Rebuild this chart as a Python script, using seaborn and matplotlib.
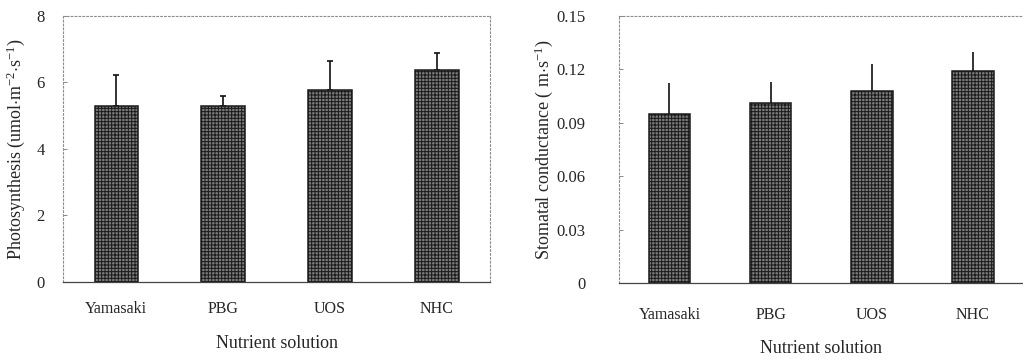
import matplotlib
matplotlib.use('Agg')
import matplotlib.pyplot as plt
import numpy as np
import pandas as pd
import seaborn as sns

# values
solutions = ['Yamasaki', 'PBG', 'UOS', 'NHC']
photo_mean = [5.28, 5.28, 5.77, 6.38]
photo_err = [0.95, 0.30, 0.88, 0.50]
cond_mean = [0.095, 0.101, 0.108, 0.119]
cond_err = [0.0175, 0.012, 0.015, 0.011]

photo_ticks = [0, 2, 4, 6, 8]
photo_ticklabels = ['0', '2', '4', '6', '8']
cond_ticks = [0, 0.03, 0.06, 0.09, 0.12, 0.15]
cond_ticklabels = ['0', '0.03', '0.06', '0.09', '0.12', '0.15']

sns.set_style('white')
plt.rcParams['font.family'] = ['Liberation Serif', 'DejaVu Serif']
plt.rcParams['mathtext.fontset'] = 'custom'
plt.rcParams['mathtext.rm'] = 'Liberation Serif'
plt.rcParams['mathtext.it'] = 'Liberation Serif:italic'
plt.rcParams['hatch.color'] = '#151515'
plt.rcParams['hatch.linewidth'] = 0.7


def draw_panel(ax, means, errs, ylim, ticks, ticklabels, ylabel, capsize,
               label_pad, xpad):
    df = pd.DataFrame({'solution': solutions, 'value': means, 'err': errs})
    sns.barplot(data=df, x='solution', y='value', ax=ax, color='#7a7a7a',
                saturation=1, width=0.41, edgecolor='#1a1a1a', linewidth=1.1,
                hatch='+++++', errorbar=None, zorder=2)
    ax.errorbar(np.arange(len(solutions)), df['value'],
                yerr=[np.zeros(len(errs)), df['err']], fmt='none',
                ecolor='#111111', elinewidth=1.2, capsize=capsize,
                capthick=1.2, zorder=1)
    ax.set_xlim(-0.5, len(solutions) - 0.5)
    ax.set_ylim(*ylim)
    ax.set_yticks(ticks)
    ax.set_yticklabels(ticklabels)
    ax.set_xticks(np.arange(len(solutions)))
    ax.set_xticklabels(solutions)
    ax.set_xticks(np.arange(len(solutions) - 1) + 0.5, minor=True)
    ax.tick_params(axis='x', which='major', length=0, pad=xpad, labelsize=11.5)
    ax.tick_params(axis='x', which='minor', direction='in', length=4,
                   color='#888888', width=0.7)
    ax.tick_params(axis='y', direction='in', length=3, color='#888888',
                   width=0.7, pad=label_pad, labelsize=12, left=True)
    ax.set_xlabel('Nutrient solution', fontsize=13)
    ax.set_ylabel(ylabel, fontsize=13)
    for side in ['left', 'top', 'right']:
        ax.spines[side].set_linestyle((0, (1.5, 2.0)))
        ax.spines[side].set_color('#8c8c8c')
        ax.spines[side].set_linewidth(0.8)
    ax.spines['bottom'].set_color('#444444')
    ax.spines['bottom'].set_linewidth(0.9)


fig = plt.figure(figsize=(10.23, 3.59), dpi=100)
ax1 = fig.add_axes([0.0616, 0.2145, 0.4174, 0.741])
ax2 = fig.add_axes([0.605, 0.2117, 0.3955, 0.7437])

draw_panel(ax1, photo_mean, photo_err, (0, 8), photo_ticks, photo_ticklabels,
           r'Photosynthesis (umol$\cdot$m$^{-2}$$\cdot$s$^{-1}$)', 2.2, 13, 14)
draw_panel(ax2, cond_mean, cond_err, (0, 0.15), cond_ticks, cond_ticklabels,
           r'Stomatal conductance ( m$\cdot$s$^{-1}$)', 0, 24, 17)
ax2.spines['right'].set_visible(False)
ax1.xaxis.set_label_coords(0.5, -0.2)
ax2.xaxis.set_label_coords(0.5, -0.215)
ax1.yaxis.set_label_coords(-0.084, 0.5)
ax2.yaxis.set_label_coords(-0.159, 0.5)

fig.savefig('out.png', dpi=100)
